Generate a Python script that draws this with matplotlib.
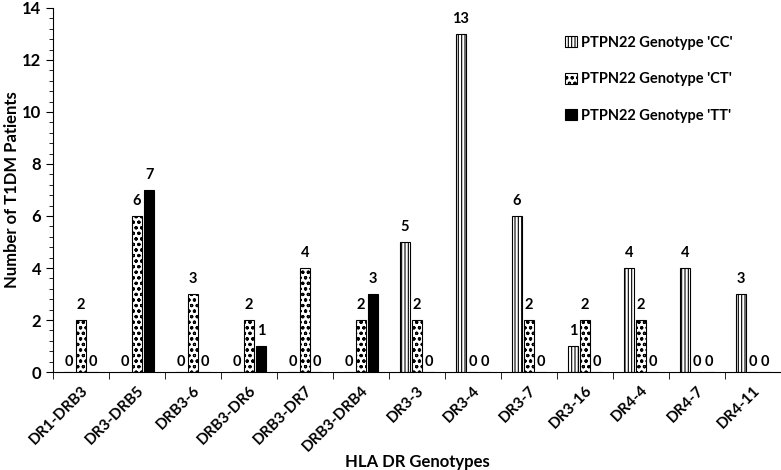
import matplotlib
matplotlib.use("Agg")
import matplotlib.pyplot as plt
import numpy as np
from matplotlib.ticker import MultipleLocator, FixedLocator

plt.rcParams['font.family'] = ['Lato', 'DejaVu Sans']
plt.rcParams['font.weight'] = 'bold'
plt.rcParams['hatch.linewidth'] = 0.8

categories = ["DR1-DRB3", "DR3-DRB5", "DRB3-6", "DRB3-DR6", "DRB3-DR7", "DRB3-DRB4",
              "DR3-3", "DR3-4", "DR3-7", "DR3-16", "DR4-4", "DR4-7", "DR4-11"]
cc = [0, 0, 0, 0, 0, 0, 5, 13, 6, 1, 4, 4, 3]
ct = [2, 6, 3, 2, 4, 2, 2, 0, 2, 2, 2, 0, 0]
tt = [0, 7, 0, 1, 0, 3, 0, 0, 0, 0, 0, 0, 0]
series_names = ["PTPN22 Genotype 'CC'", "PTPN22 Genotype 'CT'", "PTPN22 Genotype 'TT'"]

fig = plt.figure(figsize=(7.81, 4.70), dpi=100)
ax = fig.add_axes([0.068, 0.2085, 0.932, 0.7745])

x = np.arange(len(categories))
w = 0.19
step = 0.215
styles = [dict(facecolor='white', edgecolor='black', hatch='|||||'),
          dict(facecolor='white', edgecolor='black', hatch='ooo'),
          dict(facecolor='black', edgecolor='black', hatch=None)]
for i, (vals, name, st) in enumerate(zip([cc, ct, tt], series_names, styles)):
    pos = x + (i - 1) * step
    ax.bar(pos, vals, width=w, label=name, linewidth=0.8, **st)
    for px, v in zip(pos, vals):
        off = 6 if v > 0 else 2
        ax.annotate(str(v), (px, v), xytext=(0, off), textcoords='offset points',
                    ha='center', va='bottom', fontsize=10.5, fontweight='bold')

ax.set_xlim(-0.5, len(categories) - 0.5)
ax.set_ylim(0, 14)
ax.yaxis.set_major_locator(MultipleLocator(2))
ax.yaxis.set_minor_locator(MultipleLocator(0.4))
ax.set_xticks(x)
ax.set_xticklabels(categories, rotation=45, ha='right', rotation_mode='anchor',
                   fontsize=11, fontweight='bold')
ax.xaxis.set_minor_locator(FixedLocator(np.arange(-0.5, len(categories), 1.0)))
ax.tick_params(axis='x', which='major', length=0, pad=8)
ax.tick_params(axis='x', which='minor', length=5, direction='out')
ax.tick_params(axis='y', which='major', length=5, direction='out', labelsize=12)
ax.tick_params(axis='y', which='minor', length=3, direction='out')
for lab in ax.get_yticklabels():
    lab.set_fontweight('bold')
ax.spines['top'].set_visible(False)
ax.spines['right'].set_visible(False)
ax.set_ylabel("Number of T1DM Patients", fontsize=12, fontweight='bold')
ax.yaxis.set_label_coords(-0.045, 0.5)
ax.set_xlabel("HLA DR Genotypes", fontsize=12, fontweight='bold', labelpad=0)

leg = ax.legend(loc='upper left', bbox_to_anchor=(0.685, 0.96), frameon=False,
                fontsize=10.5, handlelength=0.8, handleheight=0.8, handletextpad=0.3,
                labelspacing=1.55)

fig.savefig("out.png", dpi=100)
